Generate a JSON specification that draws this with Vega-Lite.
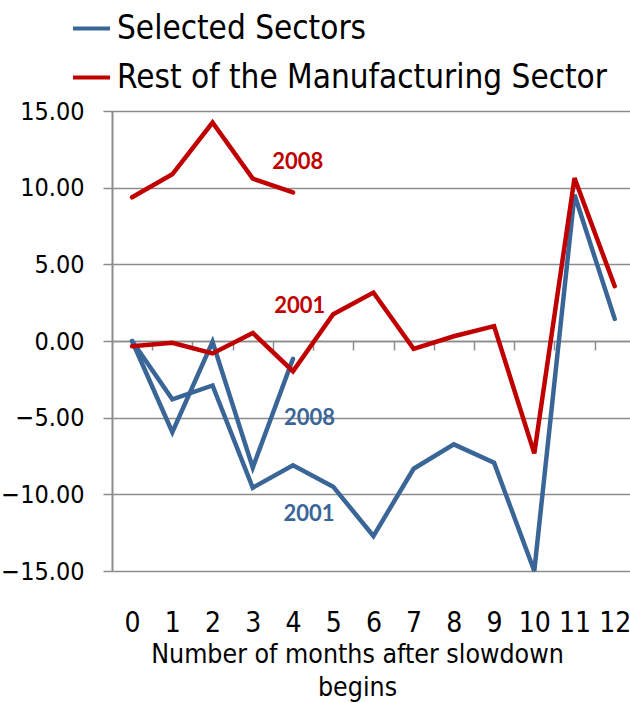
{
  "$schema": "https://vega.github.io/schema/vega-lite/v6.json",
  "width": 518,
  "height": 460,
  "autosize": {"type": "none"},
  "padding": {"left": 112, "top": 111, "right": 0, "bottom": 132},
  "background": "white",
  "config": {"view": {"stroke": null}, "font": "DejaVu Sans Condensed, sans-serif"},
  "datasets": {
    "lines": [
      {"month": 0, "value": 0, "sector": "Selected Sectors", "period": "2001"},
      {"month": 1, "value": -3.8, "sector": "Selected Sectors", "period": "2001"},
      {"month": 2, "value": -2.9, "sector": "Selected Sectors", "period": "2001"},
      {"month": 3, "value": -9.57, "sector": "Selected Sectors", "period": "2001"},
      {"month": 4, "value": -8.1, "sector": "Selected Sectors", "period": "2001"},
      {"month": 5, "value": -9.5, "sector": "Selected Sectors", "period": "2001"},
      {"month": 6, "value": -12.72, "sector": "Selected Sectors", "period": "2001"},
      {"month": 7, "value": -8.33, "sector": "Selected Sectors", "period": "2001"},
      {"month": 8, "value": -6.74, "sector": "Selected Sectors", "period": "2001"},
      {"month": 9, "value": -7.94, "sector": "Selected Sectors", "period": "2001"},
      {"month": 10, "value": -15, "sector": "Selected Sectors", "period": "2001"},
      {"month": 11, "value": 9.54, "sector": "Selected Sectors", "period": "2001"},
      {"month": 12, "value": 1.44, "sector": "Selected Sectors", "period": "2001"},
      {"month": 0, "value": 0, "sector": "Selected Sectors", "period": "2008"},
      {"month": 1, "value": -5.94, "sector": "Selected Sectors", "period": "2008"},
      {"month": 2, "value": -0.05, "sector": "Selected Sectors", "period": "2008"},
      {"month": 3, "value": -8.26, "sector": "Selected Sectors", "period": "2008"},
      {"month": 4, "value": -1.16, "sector": "Selected Sectors", "period": "2008"},
      {"month": 0, "value": -0.34, "sector": "Rest of the Manufacturing Sector", "period": "2001"},
      {"month": 1, "value": -0.12, "sector": "Rest of the Manufacturing Sector", "period": "2001"},
      {"month": 2, "value": -0.81, "sector": "Rest of the Manufacturing Sector", "period": "2001"},
      {"month": 3, "value": 0.53, "sector": "Rest of the Manufacturing Sector", "period": "2001"},
      {"month": 4, "value": -1.97, "sector": "Rest of the Manufacturing Sector", "period": "2001"},
      {"month": 5, "value": 1.75, "sector": "Rest of the Manufacturing Sector", "period": "2001"},
      {"month": 6, "value": 3.16, "sector": "Rest of the Manufacturing Sector", "period": "2001"},
      {"month": 7, "value": -0.51, "sector": "Rest of the Manufacturing Sector", "period": "2001"},
      {"month": 8, "value": 0.31, "sector": "Rest of the Manufacturing Sector", "period": "2001"},
      {"month": 9, "value": 0.97, "sector": "Rest of the Manufacturing Sector", "period": "2001"},
      {"month": 10, "value": -7.33, "sector": "Rest of the Manufacturing Sector", "period": "2001"},
      {"month": 11, "value": 10.63, "sector": "Rest of the Manufacturing Sector", "period": "2001"},
      {"month": 12, "value": 3.57, "sector": "Rest of the Manufacturing Sector", "period": "2001"},
      {"month": 0, "value": 9.37, "sector": "Rest of the Manufacturing Sector", "period": "2008"},
      {"month": 1, "value": 10.87, "sector": "Rest of the Manufacturing Sector", "period": "2008"},
      {"month": 2, "value": 14.25, "sector": "Rest of the Manufacturing Sector", "period": "2008"},
      {"month": 3, "value": 10.59, "sector": "Rest of the Manufacturing Sector", "period": "2008"},
      {"month": 4, "value": 9.69, "sector": "Rest of the Manufacturing Sector", "period": "2008"}
    ],
    "labels": [
      {"month": 4.12, "value": 11.7, "label": "2008", "sector": "Rest of the Manufacturing Sector"},
      {"month": 4.17, "value": 2.28, "label": "2001", "sector": "Rest of the Manufacturing Sector"},
      {"month": 4.41, "value": -5.02, "label": "2008", "sector": "Selected Sectors"},
      {"month": 4.4, "value": -11.27, "label": "2001", "sector": "Selected Sectors"}
    ]
  },
  "resolve": {"axis": {"x": "independent"}},
  "layer": [
    {
      "data": {"name": "lines"},
      "mark": {"type": "line", "strokeWidth": 4.5, "strokeJoin": "miter", "strokeCap": "round"},
      "encoding": {
        "x": {
          "field": "month", "type": "quantitative",
          "scale": {"domain": [-0.5, 12.38], "nice": false, "zero": false},
          "axis": {
            "orient": "bottom", "values": [0,1,2,3,4,5,6,7,8,9,10,11,12],
            "domain": false, "ticks": false, "grid": false,
            "labelFontSize": 28, "labelPadding": 38, "labelColor": "black", "labelFlush": false,
            "labelOverlap": false,
            "title": ["Number of months after slowdown", "begins"],
            "titleFontSize": 26.5, "titleFontWeight": "normal", "titleColor": "black",
            "titleX": 245, "titleY": 91, "titleBaseline": "alphabetic", "titleLineHeight": 33
          }
        },
        "y": {
          "field": "value", "type": "quantitative",
          "scale": {"domain": [-15, 15], "nice": false},
          "axis": {
            "values": [-15,-10,-5,0,5,10,15], "format": ".2f", "grid": true,
            "gridColor": "#8c8c8c", "gridWidth": 1.5,
            "domainColor": "#8c8c8c", "domainWidth": 2,
            "tickColor": "#8c8c8c", "tickSize": 9, "tickWidth": 1.5,
            "labelFontSize": 25, "labelPadding": 19, "labelColor": "black", "title": null
          }
        },
        "color": {
          "field": "sector", "type": "nominal",
          "scale": {"domain": ["Selected Sectors", "Rest of the Manufacturing Sector"], "range": ["#3A6597", "#C00000"]},
          "legend": {
            "orient": "none", "legendX": -41, "legendY": -103, "title": null,
            "symbolType": "stroke", "symbolSize": 1369, "symbolStrokeWidth": 4,
            "labelFontSize": 33, "labelLimit": 600, "labelOffset": 5, "rowPadding": 11,
            "padding": 0, "labelColor": "black"
          }
        },
        "detail": {"field": "period"},
        "order": {"field": "month", "type": "quantitative"}
      }
    },
    {
      "data": {"name": "labels"},
      "mark": {"type": "text", "font": "Lato", "fontWeight": "bold", "fontSize": 22, "align": "center", "baseline": "middle"},
      "encoding": {
        "x": {
          "field": "month", "type": "quantitative",
          "axis": {
            "orient": "bottom", "offset": -230,
            "values": [0.5,1.5,2.5,3.5,4.5,5.5,6.5,7.5,8.5,9.5,10.5,11.5],
            "labels": false, "domain": true, "domainColor": "#8c8c8c", "domainWidth": 1.5,
            "ticks": true, "tickColor": "#8c8c8c", "tickSize": 9, "tickWidth": 1.5,
            "grid": false, "title": null
          }
        },
        "y": {"field": "value", "type": "quantitative"},
        "text": {"field": "label"},
        "color": {"field": "sector", "type": "nominal", "legend": null}
      }
    }
  ]
}
